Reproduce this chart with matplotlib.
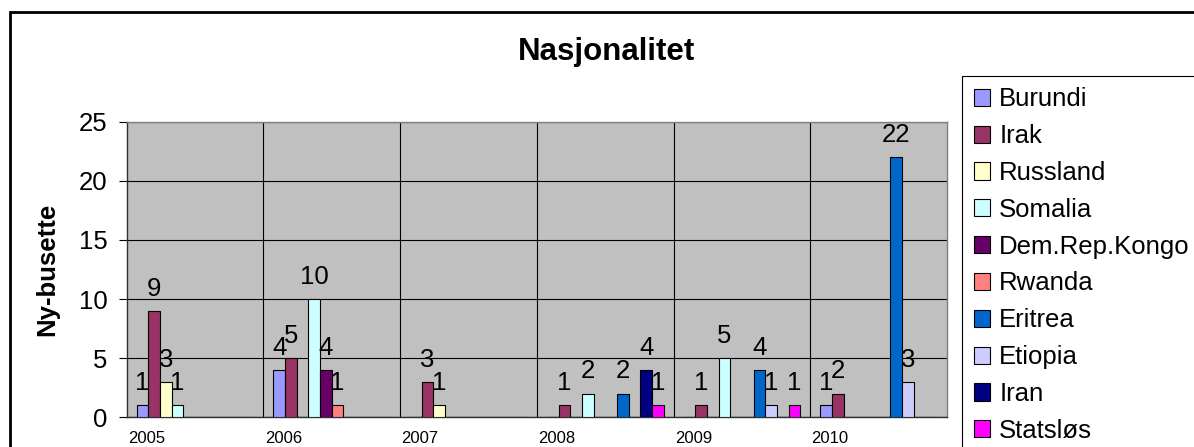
import numpy as np
import matplotlib.pyplot as plt
from matplotlib.patches import Patch, Rectangle

plt.rcParams['font.family'] = ['Liberation Sans', 'DejaVu Sans']

years = ['2005', '2006', '2007', '2008', '2009', '2010']
countries = ['Burundi', 'Irak', 'Russland', 'Somalia', 'Dem.Rep.Kongo',
             'Rwanda', 'Eritrea', 'Etiopia', 'Iran', 'Statsløs']
colors = ['#9999FF', '#993366', '#FFFFCC', '#CCFFFF', '#660066',
          '#FF8080', '#0066CC', '#CCCCFF', '#000080', '#FF00FF']

burundi = [1, 4, 0, 0, 0, 1]
irak = [9, 5, 3, 1, 1, 2]
russland = [3, 0, 1, 0, 0, 0]
somalia = [1, 10, 0, 2, 5, 0]
kongo = [0, 4, 0, 0, 0, 0]
rwanda = [0, 1, 0, 0, 0, 0]
eritrea = [0, 0, 0, 2, 4, 22]
etiopia = [0, 0, 0, 0, 1, 3]
iran = [0, 0, 0, 4, 0, 0]
statslos = [0, 0, 0, 1, 1, 0]

series = [burundi, irak, russland, somalia, kongo,
          rwanda, eritrea, etiopia, iran, statslos]

W, H = 1194, 447
fig = plt.figure(figsize=(W / 100, H / 100), dpi=100)
ax = fig.add_axes([126.7 / W, 1 - 417.3 / H, (947 - 126.7) / W, (417.3 - 121.7) / H])

x = np.arange(len(years))
n = len(series)
w = 0.854 / n
for k, vals in enumerate(series):
    pos = x + (k - (n - 1) / 2) * w
    ax.bar(pos, vals, width=w, color=colors[k], edgecolor='black', linewidth=0.8, zorder=3)
    for xp, v in zip(pos, vals):
        if v > 0:
            ax.annotate(str(v), (xp, v), xytext=(0, 11), textcoords='offset points',
                        ha='center', va='baseline', fontsize=18.5, zorder=4)

ax.set_facecolor('#C0C0C0')
ax.set_xlim(-0.5, len(years) - 0.5)
ax.set_ylim(0, 25)
ax.set_yticks(range(0, 26, 5))
ax.tick_params(axis='y', labelsize=18.5, length=6, width=0.8, pad=8, direction='out')
ax.set_xticks(x - 0.355)
ax.set_xticklabels(years, fontsize=12)
ax.tick_params(axis='x', length=0, pad=10)
ax.set_xticks(x[:-1] + 0.5, minor=True)
ax.tick_params(axis='x', which='minor', length=0)
ax.grid(axis='y', which='major', color='black', linewidth=0.8, zorder=1)
ax.grid(axis='x', which='minor', color='black', linewidth=0.8, zorder=1)
ax.grid(axis='x', which='major', visible=False)
ax.set_axisbelow(True)
for s in ['top', 'right']:
    ax.spines[s].set_color('#808080')
for s in ['left', 'bottom']:
    ax.spines[s].set_color('#303030')
for s in ax.spines.values():
    s.set_linewidth(1.0)

ax.set_ylabel('Ny-busette', fontsize=18.5, fontweight='bold')
ax.yaxis.set_label_coords((47 - 126.7) / (947 - 126.7), 0.5)
ax.yaxis.label.set_va('center')

fig.text(606 / W, 1 - 52 / H, 'Nasjonalitet', fontsize=22.5, fontweight='bold',
         ha='center', va='center')

handles = [Patch(facecolor=c, edgecolor='black', linewidth=0.8) for c in colors]
leg = fig.legend(handles, countries, loc='upper left',
                 bbox_to_anchor=(962 / W, 1 - 75.7 / H), fontsize=18.5,
                 frameon=False, handlelength=0.65, handleheight=0.65,
                 handletextpad=0.35, labelspacing=0.5, borderpad=0.45,
                 borderaxespad=0)

# legend frame runs past the right and bottom edges
fig.patches.append(Rectangle((962 / W, -0.2), 0.5, 1.2 - 75.7 / H, transform=fig.transFigure,
                             fill=False, edgecolor='black', linewidth=0.8))
# outer chart border
fig.patches.append(Rectangle((10 / W, -0.2), 1.2, 1.2 - 12 / H, transform=fig.transFigure,
                             fill=False, edgecolor='black', linewidth=2))

fig.savefig('out.png', dpi=100)
